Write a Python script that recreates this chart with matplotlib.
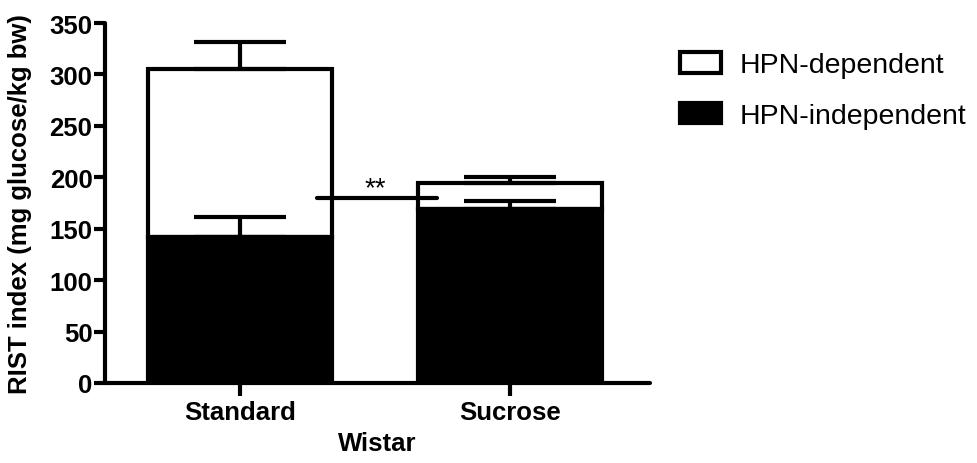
import matplotlib
matplotlib.use("Agg")
import matplotlib.pyplot as plt
from matplotlib.patches import Patch

plt.rcParams['font.family'] = ['Liberation Sans', 'DejaVu Sans']

categories = ["Standard", "Sucrose"]
hpn_independent = [142, 169]
hpn_dependent = [163, 25]
err_independent = [19, 8]
err_total = [27, 6.5]
sig_value = 179.5
sig_label = "**"
yticks = [0, 50, 100, 150, 200, 250, 300, 350]

W, H = 977, 464
fig = plt.figure(figsize=(W / 100, H / 100), dpi=100)
ax = fig.add_axes([105 / W, (H - 384) / H, (650 - 105) / W, (384 - 24) / H])

x = list(range(len(categories)))
bw = 0.681
lw = 3.0
totals = [a + b for a, b in zip(hpn_independent, hpn_dependent)]

ax.bar(x, hpn_dependent, bottom=hpn_independent, width=bw, color='white',
       edgecolor='black', linewidth=lw, zorder=2)
ax.bar(x, hpn_independent, width=bw, color='black', edgecolor='black',
       linewidth=lw, zorder=3)

for xi, v, e in zip(x, hpn_independent, err_independent):
    ax.errorbar([xi], [v], yerr=[[0], [e]], fmt='none', ecolor='black',
                elinewidth=lw, capsize=33, capthick=lw, zorder=4)
for xi, v, e in zip(x, totals, err_total):
    ax.errorbar([xi], [v], yerr=[[0], [e]], fmt='none', ecolor='black',
                elinewidth=lw, capsize=33, capthick=lw, zorder=4)

ax.plot([0.285, 0.73], [sig_value, sig_value], color='black', lw=lw,
        solid_capstyle='round', zorder=5)
ax.text(0.5, sig_value + 23, sig_label, ha='center', va='top', fontsize=20,
        zorder=5)

ax.set_xlim(-0.5, 1.52)
ax.set_ylim(0, 350)
ax.set_yticks(yticks)
ax.set_xticks(x)
ax.set_xticklabels(categories)
for s in ['top', 'right']:
    ax.spines[s].set_visible(False)
for s in ['left', 'bottom']:
    ax.spines[s].set_linewidth(lw)
    ax.spines[s].set_capstyle('round')
ax.tick_params(axis='y', length=8, width=lw, pad=1, labelsize=18.5)
ax.tick_params(axis='x', length=9, width=lw, pad=3, labelsize=18.5)
for lab in ax.get_xticklabels() + ax.get_yticklabels():
    lab.set_fontweight('bold')

ax.set_ylabel("RIST index (mg glucose/kg bw)", fontsize=18.5,
              fontweight='bold')
ax.yaxis.set_label_coords(-0.134, 0.5)
ax.set_xlabel("Wistar", fontsize=18.5, fontweight='bold', labelpad=5)

handles = [Patch(facecolor='white', edgecolor='black', linewidth=lw),
           Patch(facecolor='black', edgecolor='black', linewidth=lw)]
fig.legend(handles, ["HPN-dependent", "HPN-independent"], loc='upper left',
           bbox_to_anchor=(680 / W, 1 - 53 / H), frameon=False, fontsize=20.5,
           handlelength=1.45, handleheight=0.75, handletextpad=0.65,
           labelspacing=0.85, borderpad=0, borderaxespad=0)

fig.savefig("out.png", dpi=100)
